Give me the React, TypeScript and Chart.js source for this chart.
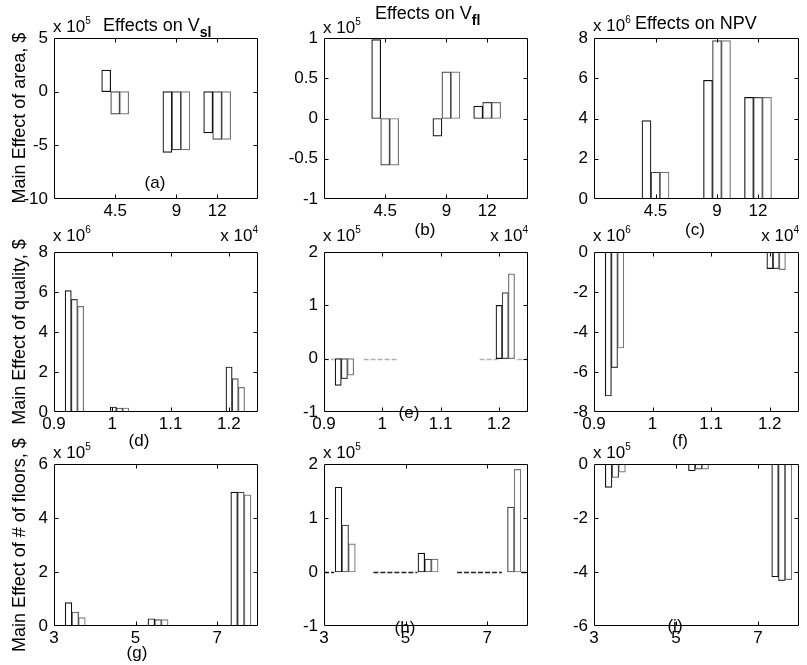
import React, { useEffect, useRef } from "react";
import { Chart, registerables } from "chart.js";
Chart.register(...registerables);

// ---------- data ----------
// group positions on the x axes
const areaLevels = [4.5, 9, 12];
const qualityLevels = [0.935, 1.0125, 1.211]; // x 10^4
const floorLevels = [3.52, 5.55, 7.58];

// tick labels
const areaTicks = [4.5, 9, 12];
const qualityTicks = [0.9, 1, 1.1, 1.2];
const floorTicks = [3, 5, 7];

// each panel: three series (first, second, third bar of every group)
const areaVsl = [
  [2.0, -5.65, -3.85],
  [-2.1, -5.42, -4.45],
  [-2.1, -5.42, -4.45],
]; // x 10^5
const areaVfl = [
  [0.98, -0.22, 0.155],
  [-0.58, 0.58, 0.2],
  [-0.58, 0.58, 0.2],
]; // x 10^5
const areaNpv = [
  [3.9, 5.9, 5.05],
  [1.33, 7.87, 5.05],
  [1.33, 7.87, 5.05],
]; // x 10^6
const qualityVsl = [
  [6.07, 0.25, 2.25],
  [5.63, 0.2, 1.67],
  [5.28, 0.2, 1.23],
]; // x 10^6
const qualityVfl = [
  [-0.5, 0, 1.0],
  [-0.375, 0, 1.24],
  [-0.31, 0, 1.59],
]; // x 10^5
const qualityNpv = [
  [-7.2, 0, -0.83],
  [-5.78, 0, -0.83],
  [-4.8, 0, -0.88],
]; // x 10^6
const floorsVsl = [
  [0.87, 0.27, 4.96],
  [0.52, 0.24, 4.96],
  [0.31, 0.24, 4.86],
]; // x 10^5
const floorsVfl = [
  [1.57, 0.35, 0],
  [0.87, 0.24, 1.2],
  [0.52, 0.24, 1.9],
]; // x 10^5
const floorsNpv = [
  [-0.87, -0.25, -4.18],
  [-0.5, -0.19, -4.32],
  [-0.3, -0.19, -4.28],
]; // x 10^5

// visible pieces of the zero baseline (x ranges)
const qualityVflBaseline = [
  [0.9, 0.918],
  [0.968, 1.028],
  [1.167, 1.198],
  [1.232, 1.25],
];
const floorsVflBaseline = [
  [3, 3.25],
  [4.21, 5.29],
  [6.26, 7.36],
  [7.83, 8],
];

// ---------- layout / style ----------
const PLOT_LEFT = [54, 324, 594];
const PLOT_W = [204, 204, 205];
const CANVAS_W = [270, 270, 267];
const PLOT_TOP = [38, 252, 464];
const PLOT_BOTTOM = [199, 412, 626];
const PAD = 30;
const SERIES_BORDER = ["#111111", "#444444", "#777777"];
const FONT = "'Liberation Sans', Arial, Helvetica, sans-serif";

type PanelCfg = {
  xs: number[];
  series: number[][];
  xMin: number;
  xMax: number;
  xTicks: number[];
  yMin: number;
  yMax: number;
  yTicks: number[];
  barThickness: number;
  baseline?: number[][];
  baselineColor?: string;
};

const range = (a: number, b: number, s: number) => {
  const out: number[] = [];
  for (let v = a; v <= b + 1e-9; v += s) out.push(Math.round(v * 1000) / 1000);
  return out;
};

const panels: PanelCfg[][] = [
  [
    { xs: areaLevels, series: areaVsl, xMin: 0, xMax: 15, xTicks: areaTicks, yMin: -10, yMax: 5, yTicks: range(-10, 5, 5), barThickness: 9 },
    { xs: areaLevels, series: areaVfl, xMin: 0, xMax: 15, xTicks: areaTicks, yMin: -1, yMax: 1, yTicks: range(-1, 1, 0.5), barThickness: 9 },
    { xs: areaLevels, series: areaNpv, xMin: 0, xMax: 15, xTicks: areaTicks, yMin: 0, yMax: 8, yTicks: range(0, 8, 2), barThickness: 9 },
  ],
  [
    { xs: qualityLevels, series: qualityVsl, xMin: 0.9, xMax: 1.25, xTicks: qualityTicks, yMin: 0, yMax: 8, yTicks: range(0, 8, 2), barThickness: 6.2 },
    { xs: qualityLevels, series: qualityVfl, xMin: 0.9, xMax: 1.25, xTicks: qualityTicks, yMin: -1, yMax: 2, yTicks: range(-1, 2, 1), barThickness: 6.2, baseline: qualityVflBaseline, baselineColor: "#b0b0b0" },
    { xs: qualityLevels, series: qualityNpv, xMin: 0.9, xMax: 1.25, xTicks: qualityTicks, yMin: -8, yMax: 0, yTicks: range(-8, 0, 2), barThickness: 6.2 },
  ],
  [
    { xs: floorLevels, series: floorsVsl, xMin: 3, xMax: 8, xTicks: floorTicks, yMin: 0, yMax: 6, yTicks: range(0, 6, 2), barThickness: 6.7 },
    { xs: floorLevels, series: floorsVfl, xMin: 3, xMax: 8, xTicks: floorTicks, yMin: -1, yMax: 2, yTicks: range(-1, 2, 1), barThickness: 6.7, baseline: floorsVflBaseline, baselineColor: "#222" },
    { xs: floorLevels, series: floorsNpv, xMin: 3, xMax: 8, xTicks: floorTicks, yMin: -6, yMax: 0, yTicks: range(-6, 0, 2), barThickness: 6.7 },
  ],
];

const framePlugin = {
  id: "matlabFrame",
  beforeDatasetsDraw(chart: any, _args: any, opts: any) {
    const segs: number[][] | undefined = opts && opts.baseline;
    if (!segs) return;
    const { ctx, scales } = chart;
    const py = Math.round(scales.y.getPixelForValue(0)) + 0.5;
    ctx.save();
    ctx.strokeStyle = opts.color;
    ctx.lineWidth = 1.3;
    ctx.setLineDash([5, 2]);
    ctx.beginPath();
    for (const [a, b] of segs) {
      ctx.moveTo(scales.x.getPixelForValue(a), py);
      ctx.lineTo(scales.x.getPixelForValue(b), py);
    }
    ctx.stroke();
    ctx.restore();
  },
  afterDatasetsDraw(chart: any) {
    const { ctx, chartArea: a, scales } = chart;
    const L = Math.round(a.left) + 0.5;
    const R = Math.round(a.right) - 0.5;
    const T = Math.round(a.top) + 0.5;
    const B = Math.round(a.bottom) - 0.5;
    ctx.save();
    ctx.strokeStyle = "#000";
    ctx.lineWidth = 1;
    ctx.beginPath();
    ctx.rect(L, T, R - L, B - T);
    const tl = 4;
    for (const t of scales.x.ticks) {
      const px = Math.round(scales.x.getPixelForValue(t.value)) + 0.5;
      if (px <= L + 1 || px >= R - 1) continue;
      ctx.moveTo(px, B);
      ctx.lineTo(px, B - tl);
      ctx.moveTo(px, T);
      ctx.lineTo(px, T + tl);
    }
    for (const t of scales.y.ticks) {
      const py = Math.round(scales.y.getPixelForValue(t.value)) + 0.5;
      if (py <= T + 1 || py >= B - 1) continue;
      ctx.moveTo(L, py);
      ctx.lineTo(L + tl, py);
      ctx.moveTo(R, py);
      ctx.lineTo(R - tl, py);
    }
    ctx.stroke();
    ctx.restore();
  },
};

function Panel({ cfg, row, col }: { cfg: PanelCfg; row: number; col: number }) {
  const ref = useRef<HTMLCanvasElement>(null);
  const w = CANVAS_W[col];
  const h = PLOT_BOTTOM[row] - PLOT_TOP[row] + 2 * PAD;
  const left = PLOT_LEFT[col] - 54;
  const top = PLOT_TOP[row] - PAD;

  useEffect(() => {
    if (!ref.current) return;
    const datasets: any[] = cfg.series.map((vals, i) => ({
      type: "bar",
      data: cfg.xs.map((x, j) => ({ x, y: vals[j] })),
      backgroundColor: "#ffffff",
      borderColor: SERIES_BORDER[i],
      borderWidth: 1.2,
      borderSkipped: false,
      barThickness: cfg.barThickness,
    }));
    const tickFont = { family: FONT, size: 17 };
    const chart = new Chart(ref.current, {
      type: "bar",
      data: { datasets },
      plugins: [framePlugin],
      options: {
        responsive: false,
        animation: false,
        devicePixelRatio: 1,
        layout: { padding: { top: PAD, left: 0, right: w - 54 - PLOT_W[col], bottom: 0 } },
        plugins: {
          legend: { display: false },
          tooltip: { enabled: false },
          matlabFrame: { baseline: cfg.baseline, color: cfg.baselineColor },
        },
        scales: {
          x: {
            type: "linear",
            min: cfg.xMin,
            max: cfg.xMax,
            offset: false,
            grid: { display: false, offset: false, drawTicks: false },
            border: { display: false },
            afterBuildTicks: (s: any) => {
              s.ticks = cfg.xTicks.map((v) => ({ value: v }));
            },
            afterFit: (s: any) => {
              s.height = PAD;
            },
            ticks: {
              font: tickFont,
              color: "#000",
              padding: 2,
              maxRotation: 0,
              autoSkip: false,
              callback: (v: any) => String(v),
            },
          },
          y: {
            type: "linear",
            min: cfg.yMin,
            max: cfg.yMax,
            grid: { display: false, drawTicks: false },
            border: { display: false },
            afterBuildTicks: (s: any) => {
              s.ticks = cfg.yTicks.map((v) => ({ value: v }));
            },
            afterFit: (s: any) => {
              s.width = 54;
            },
            ticks: {
              font: tickFont,
              color: "#000",
              padding: 6,
              autoSkip: false,
              callback: (v: any) => String(v),
            },
          },
        },
      } as any,
    });
    return () => chart.destroy();
  }, []);

  return (
    <canvas
      ref={ref}
      width={w}
      height={h}
      style={{ position: "absolute", left, top, width: w, height: h }}
    />
  );
}

const Txt = ({ x, y, children, size = 17, align = "center" }: any) => (
  <div
    style={{
      position: "absolute",
      left: x,
      top: y,
      transform:
        align === "center" ? "translate(-50%,-50%)" : align === "right" ? "translate(-100%,-50%)" : "translate(0,-50%)",
      fontSize: size,
      whiteSpace: "nowrap",
      lineHeight: 1,
      color: "#000",
    }}
  >
    {children}
  </div>
);

const Exp = ({ n }: { n: number }) => (
  <span>
    x 10<span style={{ fontSize: 10, position: "relative", top: -8 }}>{n}</span>
  </span>
);

const Sub = ({ t }: { t: string }) => (
  <span style={{ fontSize: 14, fontWeight: "bold", position: "relative", top: 6 }}>{t}</span>
);

const YTitle = ({ x, y, text }: any) => (
  <div
    style={{
      position: "absolute",
      left: x,
      top: y,
      transform: "translate(-50%,-50%) rotate(-90deg)",
      fontSize: 18,
      whiteSpace: "nowrap",
      lineHeight: 1,
      color: "#000",
    }}
  >
    {text}
  </div>
);

const yExps = [
  [5, 5, 6],
  [6, 5, 6],
  [5, 5, 5],
];
const expY = [[26, 27, 25], [235, 235, 235], [452, 452, 452]];
const panelLabels = [
  ["(a)", 155, 182],
  ["(b)", 425, 229],
  ["(c)", 695, 229],
  ["(d)", 139, 440],
  ["(e)", 409, 412],
  ["(f)", 680, 440],
  ["(g)", 137, 652],
  ["(h)", 405, 627],
  ["(i)", 675, 625],
];

export default function App() {
  return (
    <div
      style={{
        position: "absolute",
        left: 0,
        top: 0,
        width: 807,
        height: 665,
        background: "#fff",
        fontFamily: FONT,
        overflow: "hidden",
      }}
    >
      {panels.map((r, ri) => r.map((cfg, ci) => <Panel key={`${ri}-${ci}`} cfg={cfg} row={ri} col={ci} />))}

      {yExps.map((r, ri) =>
        r.map((n, ci) => (
          <Txt key={`e${ri}${ci}`} x={PLOT_LEFT[ci] - 1} y={expY[ri][ci]} align="left" size={17}>
            <Exp n={n} />
          </Txt>
        ))
      )}
      {[0, 1, 2].map((ci) => (
        <Txt key={`xe${ci}`} x={PLOT_LEFT[ci] + PLOT_W[ci]} y={235} align="right" size={17}>
          <Exp n={4} />
        </Txt>
      ))}

      <Txt x={103} y={25} align="left" size={18}>
        Effects on V<Sub t="sl" />
      </Txt>
      <Txt x={375} y={13} align="left" size={18}>
        Effects on V<Sub t="fl" />
      </Txt>
      <Txt x={635} y={23} align="left" size={18}>
        Effects on NPV
      </Txt>

      {panelLabels.map(([t, x, y]) => (
        <Txt key={t as string} x={x} y={y} size={17}>
          {t}
        </Txt>
      ))}

      <YTitle x={19} y={118} text="Main Effect of area, $" />
      <YTitle x={19} y={332} text="Main Effect of quality, $" />
      <YTitle x={19} y={545} text="Main Effect of # of floors, $" />
    </div>
  );
}
